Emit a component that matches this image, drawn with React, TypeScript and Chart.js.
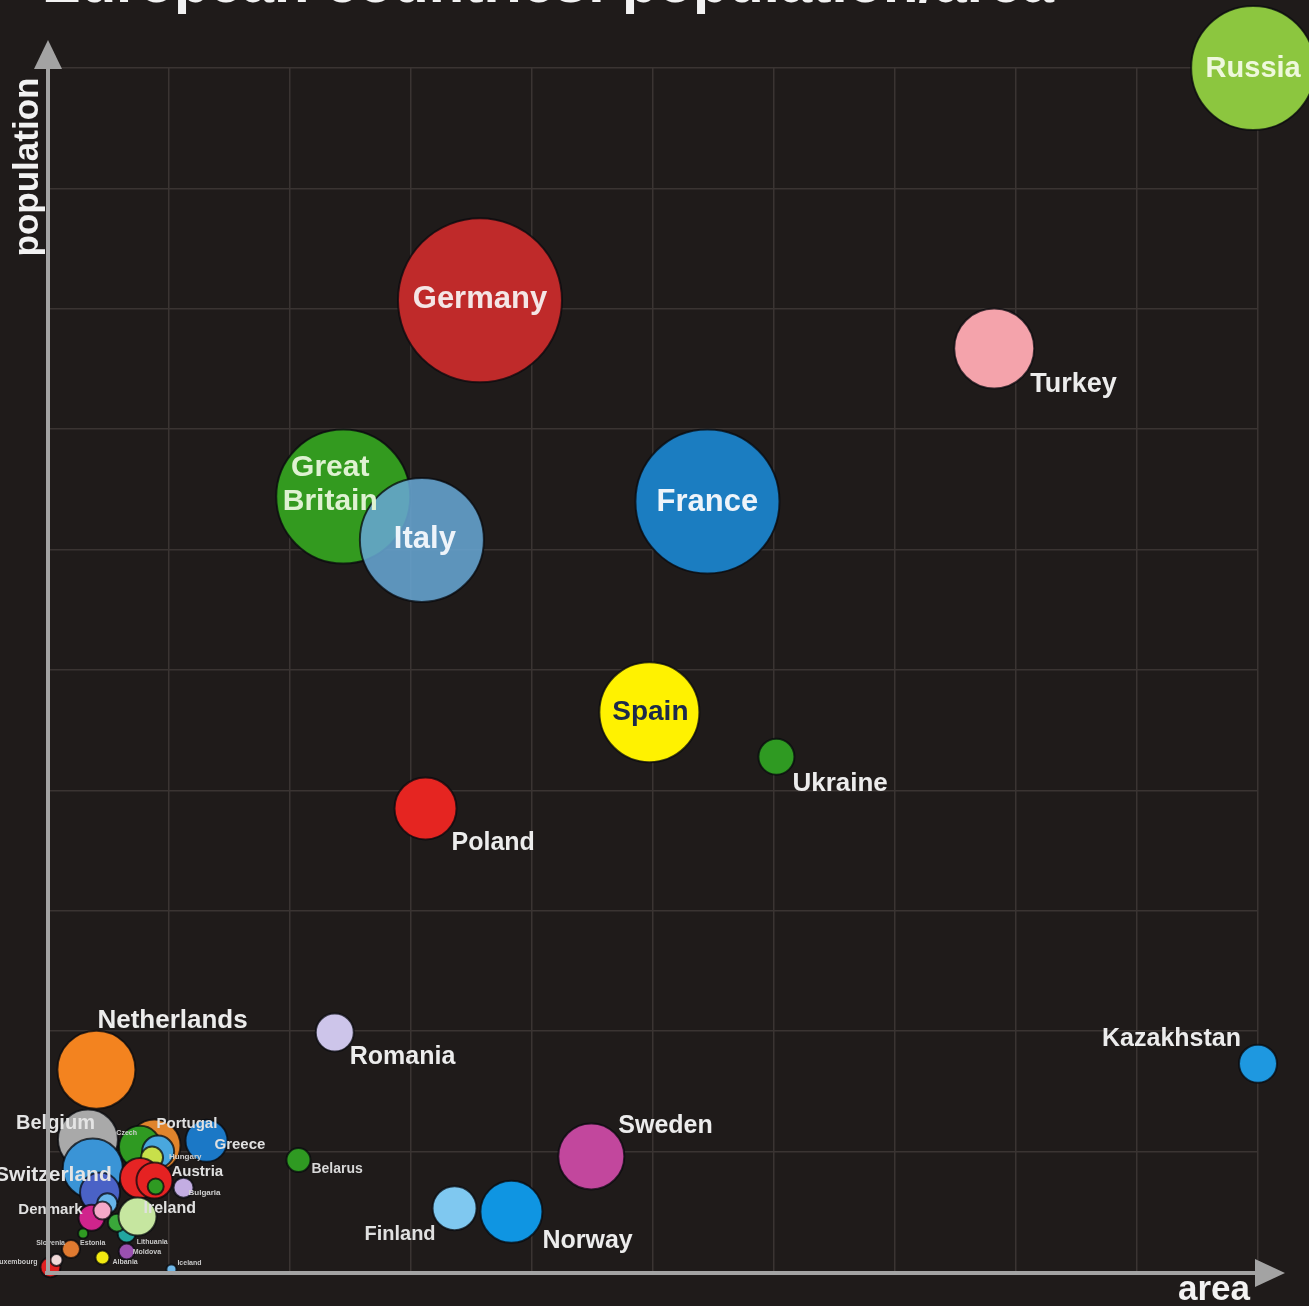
import React, { useEffect, useRef } from "react";
import { Chart, registerables } from "chart.js";

Chart.register(...registerables);

// ---------- DATA (chart units: area / population, grid 0..10) ----------
const countries = [
  "Belgium", "Netherlands", "Switzerland", "Slovakia", "Croatia",
  "Portugal", "Czech", "Serbia", "Hungary", "Greece",
  "Bosnia", "Austria", "Macedonia", "Bulgaria", "Denmark",
  "Lithuania", "Latvia", "Estonia", "Ireland", "Montenegro",
  "Moldova", "Slovenia", "Albania", "Luxembourg", "Malta",
  "Iceland", "Belarus", "Romania", "Finland", "Norway",
  "Sweden", "Poland", "Ukraine", "Spain", "Great Britain",
  "Italy", "France", "Turkey", "Germany", "Kazakhstan", "Russia",
];

const area = [
  0.33, 0.40, 0.37, 0.43, 0.49,
  0.88, 0.76, 0.91, 0.86, 1.31,
  0.76, 0.88, 0.89, 1.12, 0.36,
  0.65, 0.57, 0.29, 0.74, 0.45,
  0.65, 0.19, 0.45, 0.02, 0.07,
  1.02, 2.07, 2.37, 3.36, 3.83,
  4.49, 3.12, 6.02, 4.97, 2.44,
  3.09, 5.45, 7.82, 3.57, 10.0, 9.96,
];

const population = [
  1.10, 1.68, 0.86, 0.66, 0.57,
  1.05, 1.04, 1.00, 0.95, 1.09,
  0.78, 0.76, 0.71, 0.70, 0.45,
  0.32, 0.41, 0.32, 0.46, 0.51,
  0.17, 0.19, 0.12, 0.04, 0.10,
  0.02, 0.93, 1.99, 0.53, 0.50,
  0.96, 3.85, 4.28, 4.65, 6.44,
  6.08, 6.40, 7.67, 8.07, 1.73, 10.0,
];

const bubbleSize = [
  30, 39, 30, 20, 10,
  26, 21, 16, 11, 21,
  20, 18, 8, 10, 13,
  9, 9, 5, 19, 9,
  8, 9, 7, 10, 6,
  5, 12, 19, 22, 31,
  33, 31, 18, 50, 67,
  62, 72, 40, 82, 19, 62,
];

const colors = [
  "#a9a9a9", "#f3831f", "#3a94d6", "#4a62c6", "#66b4ea",
  "#e0842c", "#2f9a22", "#49a7de", "#c8e04a", "#1b78c6",
  "#e62424", "#e52222", "#2f9a22", "#c3ade2", "#d0248c",
  "#22a6a0", "#3aa83a", "#2f9a22", "#c6e6a0", "#f4a8c8",
  "#9a50b0", "#e07a30", "#f2ea10", "#e02020", "#f0d8d8",
  "#70b8e8", "#2f9a22", "#cdc5ea", "#7fc8f0", "#0f95e2",
  "#c2479d", "#e52521", "#2f9a22", "#fff200", "#339a1f",
  "rgba(102,165,210,0.88)", "#1b7dc1", "#f4a3ab", "#bf2a2a", "#1e98e0", "#8cc63f",
];

const titleText = "European countries: population/area";
const xAxisTitle = "area";
const yAxisTitle = "population";

// label layout: offset from bubble centre (px), alignment, font size, colour
type LabelSpec = { name: string; text: string; dx: number; dy: number; align: CanvasTextAlign; size: number; color: string };
const labelLayout: LabelSpec[] = [
  { name: "Russia", text: "Russia", dx: 0, dy: 1, align: "center", size: 29, color: "#eef8dc" },
  { name: "Germany", text: "Germany", dx: 0, dy: -1, align: "center", size: 31, color: "#f4e6e6" },
  { name: "Turkey", text: "Turkey", dx: 36, dy: 36, align: "left", size: 27, color: "#ececec" },
  { name: "Great Britain", text: "Great\nBritain", dx: -13, dy: -29, align: "center", size: 30, color: "#dff2d2" },
  { name: "Italy", text: "Italy", dx: 3, dy: -1, align: "center", size: 31, color: "#eef4fa" },
  { name: "France", text: "France", dx: 0, dy: 1, align: "center", size: 31, color: "#eef4fa" },
  { name: "Spain", text: "Spain", dx: 1, dy: 0, align: "center", size: 28, color: "#1c2a4a" },
  { name: "Ukraine", text: "Ukraine", dx: 16, dy: 27, align: "left", size: 26, color: "#ececec" },
  { name: "Poland", text: "Poland", dx: 26, dy: 35, align: "left", size: 25, color: "#ececec" },
  { name: "Netherlands", text: "Netherlands", dx: 1, dy: -49, align: "left", size: 26, color: "#ececec" },
  { name: "Romania", text: "Romania", dx: 15, dy: 25, align: "left", size: 25, color: "#ececec" },
  { name: "Kazakhstan", text: "Kazakhstan", dx: -17, dy: -25, align: "right", size: 25, color: "#ececec" },
  { name: "Sweden", text: "Sweden", dx: 27, dy: -30, align: "left", size: 25, color: "#ececec" },
  { name: "Norway", text: "Norway", dx: 31, dy: 29, align: "left", size: 25, color: "#ececec" },
  { name: "Finland", text: "Finland", dx: -19, dy: 26, align: "right", size: 20, color: "#e0e0e0" },
  { name: "Belarus", text: "Belarus", dx: 13, dy: 9, align: "left", size: 14, color: "#d8d8d8" },
  { name: "Belgium", text: "Belgium", dx: 7, dy: -16, align: "right", size: 20, color: "#e4e4e4" },
  { name: "Switzerland", text: "Switzerland", dx: 19, dy: 7, align: "right", size: 21, color: "#e4e4e4" },
  { name: "Denmark", text: "Denmark", dx: -9, dy: -8, align: "right", size: 15, color: "#e0e0e0" },
  { name: "Ireland", text: "Ireland", dx: 6, dy: -8, align: "left", size: 16, color: "#e0e0e0" },
  { name: "Portugal", text: "Portugal", dx: 2, dy: -22, align: "left", size: 15, color: "#e0e0e0" },
  { name: "Greece", text: "Greece", dx: 8, dy: 4, align: "left", size: 15, color: "#e0e0e0" },
  { name: "Austria", text: "Austria", dx: 17, dy: -9, align: "left", size: 15, color: "#e0e0e0" },
  { name: "Hungary", text: "Hungary", dx: 17, dy: -1, align: "left", size: 8, color: "#d0d0d0" },
  { name: "Bulgaria", text: "Bulgaria", dx: 5, dy: 5, align: "left", size: 8, color: "#d0d0d0" },
  { name: "Czech", text: "Czech", dx: -3, dy: -14, align: "right", size: 7, color: "#d0d0d0" },
  { name: "Slovenia", text: "Slovenia", dx: -6, dy: -6, align: "right", size: 7, color: "#c8c8c8" },
  { name: "Lithuania", text: "Lithuania", dx: 10, dy: 9, align: "left", size: 7, color: "#c8c8c8" },
  { name: "Moldova", text: "Moldova", dx: 6, dy: 1, align: "left", size: 7, color: "#c8c8c8" },
  { name: "Albania", text: "Albania", dx: 10, dy: 5, align: "left", size: 7, color: "#c8c8c8" },
  { name: "Iceland", text: "Iceland", dx: 6, dy: -7, align: "left", size: 7, color: "#c8c8c8" },
  { name: "Luxembourg", text: "Luxembourg", dx: -13, dy: -5, align: "right", size: 7, color: "#c8c8c8" },
  { name: "Estonia", text: "Estonia", dx: -3, dy: 10, align: "left", size: 7, color: "#c8c8c8" },
];

const BG = "#1f1b1a";
const FONT = "'Liberation Sans', Arial, Helvetica, sans-serif";

const decorPlugin = {
  id: "decor",
  beforeDraw(chart: any) {
    const ctx = chart.ctx as CanvasRenderingContext2D;
    ctx.save();
    ctx.fillStyle = BG;
    ctx.fillRect(0, 0, chart.width, chart.height);
    // title (mostly outside the top edge)
    ctx.fillStyle = "#f2f2f2";
    ctx.font = `bold 58px ${FONT}`;
    ctx.textAlign = "left";
    ctx.textBaseline = "alphabetic";
    ctx.fillText(titleText, 42, 2);
    ctx.restore();
  },
  afterDatasetsDraw(chart: any) {
    const ctx = chart.ctx as CanvasRenderingContext2D;
    const meta = chart.getDatasetMeta(0);
    ctx.save();
    // labels
    labelLayout.forEach((l) => {
      const i = countries.indexOf(l.name);
      if (i < 0) return;
      const el = meta.data[i];
      if (!el) return;
      ctx.font = `bold ${l.size}px ${FONT}`;
      ctx.fillStyle = l.color;
      ctx.textAlign = l.align;
      ctx.textBaseline = "middle";
      const lines = l.text.split("\n");
      lines.forEach((t, j) => {
        ctx.fillText(t, el.x + l.dx, el.y + l.dy + j * l.size * 1.15);
      });
    });

    // axes with arrows
    const xs = chart.scales.x;
    const ys = chart.scales.y;
    const x0 = xs.getPixelForValue(0);
    const y0 = ys.getPixelForValue(0);
    const yTop = ys.getPixelForValue(10);
    const xRight = xs.getPixelForValue(10);
    ctx.strokeStyle = "#a3a3a3";
    ctx.fillStyle = "#a3a3a3";
    ctx.lineWidth = 4;
    ctx.beginPath();
    ctx.moveTo(x0, y0 + 2);
    ctx.lineTo(x0, yTop - 4);
    ctx.moveTo(x0 - 3, y0 + 1);
    ctx.lineTo(xRight - 2, y0 + 1);
    ctx.stroke();
    ctx.beginPath();
    ctx.moveTo(x0, yTop - 28);
    ctx.lineTo(x0 - 14, yTop + 1);
    ctx.lineTo(x0 + 14, yTop + 1);
    ctx.closePath();
    ctx.fill();
    ctx.beginPath();
    ctx.moveTo(xRight + 27, y0 + 1);
    ctx.lineTo(xRight - 3, y0 - 13);
    ctx.lineTo(xRight - 3, y0 + 15);
    ctx.closePath();
    ctx.fill();

    // axis titles
    ctx.fillStyle = "#f2f2f2";
    ctx.font = `bold 35px ${FONT}`;
    ctx.textAlign = "right";
    ctx.textBaseline = "alphabetic";
    ctx.fillText(xAxisTitle, xRight - 8, y0 + 28);
    ctx.save();
    ctx.translate(x0 - 10, yTop + 99);
    ctx.rotate(-Math.PI / 2);
    ctx.textAlign = "center";
    ctx.fillText(yAxisTitle, 0, 0);
    ctx.restore();
    ctx.restore();
  },
};

export default function App() {
  const ref = useRef<HTMLCanvasElement | null>(null);
  useEffect(() => {
    document.body.style.margin = "0";
    document.body.style.background = BG;
    if (!ref.current) return;
    const points = countries.map((_, i) => ({ x: area[i], y: population[i], r: bubbleSize[i] }));
    const chart = new Chart(ref.current, {
      type: "bubble",
      data: {
        datasets: [
          {
            label: "countries",
            data: points,
            backgroundColor: colors,
            borderColor: "rgba(8,10,14,0.75)",
            borderWidth: 2,
            clip: false,
          } as any,
        ],
      },
      options: {
        responsive: false,
        animation: false,
        events: [],
        layout: { autoPadding: false, padding: { left: 48, right: 51, top: 68, bottom: 34 } },
        plugins: { legend: { display: false }, tooltip: { enabled: false }, title: { display: false } },
        scales: {
          x: {
            type: "linear",
            min: 0,
            max: 10,
            ticks: { display: false, stepSize: 1 },
            grid: { color: "#3a3432", lineWidth: 1.5, drawTicks: false },
            border: { display: false },
          },
          y: {
            type: "linear",
            min: 0,
            max: 10,
            ticks: { display: false, stepSize: 1 },
            grid: { color: "#3a3432", lineWidth: 1.5, drawTicks: false },
            border: { display: false },
          },
        },
      } as any,
      plugins: [decorPlugin],
    });
    return () => chart.destroy();
  }, []);
  return (
    <div style={{ width: 1309, height: 1306, background: BG }}>
      <canvas ref={ref} width={1309} height={1306} style={{ display: "block" }} />
    </div>
  );
}
